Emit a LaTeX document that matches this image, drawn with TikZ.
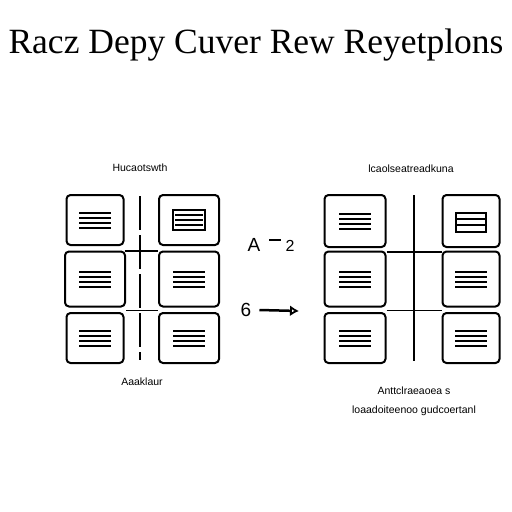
\documentclass[tikz,border=0pt]{standalone}
\usepackage{fontspec}
\setmainfont{Liberation Serif}
\newfontfamily\labfont{Liberation Sans}
\usetikzlibrary{arrows.meta}
\begin{document}
\begin{tikzpicture}[x=1pt,y=-1pt,
  cell/.style={draw, line width=2pt, rounded corners=4pt, inner sep=0pt, minimum height=50pt},
  txtline/.style={line width=1.8pt},
  conn/.style={line width=1.5pt},
  lab/.style={font=\labfont\fontsize{10.5}{12}\selectfont, inner sep=0pt}]
\fill[white] (0,0) rectangle (512,512);
\useasboundingbox (0,0) rectangle (512,512);
% title
\node[inner sep=0pt, font=\fontsize{35.5}{40}\selectfont] (title) at (256,45) {Racz Depy Cuver Rew Reyetplons};
% top labels
\node[lab] (ltop) at (140,168) {Hucaotswth};
\node[lab] (rtop) at (411,169) {lcaolseatreadkuna};
% left grid
\node[cell, minimum width=57pt] (L11) at (95,220) {};
\node[cell, minimum width=60pt, minimum height=55pt] (L21) at (95,279) {};
\node[cell, minimum width=57pt] (L31) at (95,338) {};
\node[cell, minimum width=60pt] (L12) at (189,220) {};
\node[cell, minimum width=60pt, minimum height=55pt] (L22) at (189,279) {};
\node[cell, minimum width=60pt] (L32) at (189,338) {};
% right grid
\node[cell, minimum width=61pt, minimum height=52pt] (R11) at (355,221) {};
\node[cell, minimum width=61pt, minimum height=55pt] (R21) at (355,279) {};
\node[cell, minimum width=61pt] (R31) at (355,338) {};
\node[cell, minimum width=57pt, minimum height=52pt] (R12) at (471,221) {};
\node[cell, minimum width=57pt, minimum height=55pt] (R22) at (471,279) {};
\node[cell, minimum width=57pt] (R32) at (471,338) {};
% text lines in cells
\foreach \c in {L11,L21,L31,L22,L32,R11,R21,R31,R22,R32}{
  \foreach \d in {-7,-2,3,8}{
    \draw[txtline] ([xshift=-16pt,yshift=-\d pt]\c.center) -- ([xshift=16pt,yshift=-\d pt]\c.center);
  }
}
% framed lines in L12 and R12
\draw[line width=1.3pt] ([xshift=-16pt,yshift=10pt]L12.center) rectangle ([xshift=16pt,yshift=-10pt]L12.center);
\foreach \d in {-5,0,5}{
  \draw[txtline] ([xshift=-14pt,yshift=-\d pt]L12.center) -- ([xshift=14pt,yshift=-\d pt]L12.center);
}
\draw[line width=1.8pt] ([xshift=-15pt,yshift=8pt]R12.center) rectangle ([xshift=15pt,yshift=-11pt]R12.center);
\draw[line width=1.4pt] ([xshift=-15pt,yshift=2pt]R12.center) -- ([xshift=15pt,yshift=2pt]R12.center);
\draw[line width=1.4pt] ([xshift=-15pt,yshift=-4pt]R12.center) -- ([xshift=15pt,yshift=-4pt]R12.center);
% connectors left grid
\coordinate (Ltop) at (140,196);
\coordinate (Lbot) at (140,360);
\draw[conn, dash pattern=on 34pt off 5pt] (Ltop) -- (Lbot);
\draw[conn] (L11.south east) ++(0,5) coordinate (la) -- (L12.south west |- la);
\draw[conn] (L21.south east) ++(0,3) coordinate (lb) -- (L22.south west |- lb);
% connectors right grid
\coordinate (Rtop) at (414,195);
\coordinate (Rbot) at (414,361);
\draw[conn] (Rtop) -- (Rbot);
\draw[conn] (R11.south east) ++(0,4) coordinate (ra) -- (R12.south west |- ra);
\draw[conn] (R21.south east) ++(0,3) coordinate (rb) -- (R22.south west |- rb);
% middle symbols
\node[inner sep=0pt, font=\labfont\fontsize{19}{20}\selectfont] (A) at (254,245) {A};
\node[inner sep=0pt, font=\labfont\fontsize{16}{18}\selectfont] (two) at (290,246) {2};
\draw[line width=1.5pt] (269,240) -- (281,240);
\node[inner sep=0pt, font=\labfont\fontsize{19}{20}\selectfont] (six) at (246,310) {6};
\coordinate (arrEnd) at (299,311);
\draw[line width=2.5pt, -{Latex[open,length=9pt,width=11pt]}] ([xshift=8pt]six.east) -- (arrEnd);
% bottom labels
\node[lab] (lbot) at (142,382) {Aaaklaur};
\node[lab] (rbot1) at (414,391) {Anttclraeaoea s};
\node[lab] (rbot2) at (414,411) {loaadoiteenoo gudcoertanl};
\end{tikzpicture}
\end{document}
